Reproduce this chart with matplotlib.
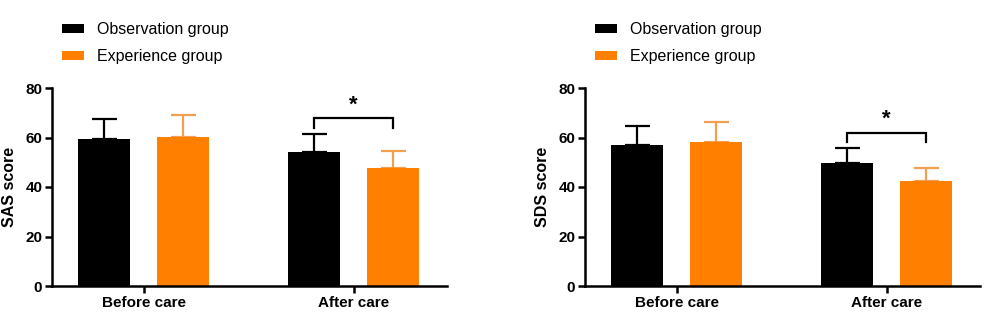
import numpy as np
import matplotlib
matplotlib.use('Agg')
from matplotlib import pyplot as plt

plt.rcParams['font.family'] = ['Liberation Sans', 'DejaVu Sans']

# data
categories = ['Before care', 'After care']
groups = ['Observation group', 'Experience group']

sas_mean = {'Observation group': [59.4, 54.0], 'Experience group': [60.2, 47.7]}
sas_sd = {'Observation group': [8.1, 7.5], 'Experience group': [8.8, 6.7]}
sds_mean = {'Observation group': [57.0, 49.7], 'Experience group': [58.0, 42.4]}
sds_sd = {'Observation group': [7.8, 6.2], 'Experience group': [8.3, 5.4]}

# significance brackets: (category index, bracket top, drop end)
sas_sig = (1, 68, 64)
sds_sig = (1, 62, 58)

bar_colors = {'Observation group': '#000000', 'Experience group': '#FF8000'}
err_colors = {'Observation group': '#000000', 'Experience group': '#F0A050'}

W, H = 991, 322
fig = plt.figure(figsize=(W / 100, H / 100), dpi=100)

x = np.arange(len(categories))
offsets = [-0.188, 0.188]
width = 0.248


def panel(left_px, means, sds, sig, ylabel):
    ax = fig.add_axes([left_px / W, 36 / H, 395 / W, 198 / H])
    for g, off in zip(groups, offsets):
        ax.bar(x + off, means[g], width=width, color=bar_colors[g], label=g, zorder=2)
        ax.errorbar(x + off, means[g], yerr=[np.zeros(len(x)), sds[g]], fmt='none',
                    ecolor=err_colors[g], elinewidth=1.6, capsize=9, capthick=1.6, zorder=1)
    # significance bracket
    ci, top, low = sig
    xl, xr = ci + offsets[0], ci + offsets[1]
    ax.plot([xl, xl, xr, xr], [low, top, top, low], color='black', lw=1.6,
            solid_joinstyle='miter', clip_on=False)
    ax.text(ci, top + 1.0, '*', ha='center', va='bottom', fontsize=16, fontweight='bold')

    ax.set_xlim(-0.436, 1.445)
    ax.set_ylim(0, 80)
    ax.set_yticks([0, 20, 40, 60, 80])
    ax.set_xticks(x)
    ax.set_xticklabels(categories, fontsize=11, fontweight='bold')
    for lab in ax.get_yticklabels():
        lab.set_fontsize(11)
        lab.set_fontweight('bold')
    ax.set_ylabel(ylabel, fontsize=11.5, fontweight='bold')
    ax.yaxis.set_label_coords(-0.088, 0.5)
    for s in ['top', 'right']:
        ax.spines[s].set_visible(False)
    for s in ['left', 'bottom']:
        ax.spines[s].set_linewidth(1.8)
    ax.tick_params(axis='both', width=1.8, length=5, pad=2)
    ax.legend(loc='upper left', bbox_to_anchor=((left_px + 10) / W, 1 - 22 / H),
              bbox_transform=fig.transFigure, frameon=False, fontsize=11.5,
              handlelength=1.35, handleheight=0.55, handletextpad=0.85, labelspacing=0.75,
              borderaxespad=0, borderpad=0)
    return ax


ax1 = panel(52, sas_mean, sas_sd, sas_sig, 'SAS score')
ax2 = panel(585, sds_mean, sds_sd, sds_sig, 'SDS score')

plt.savefig('out.png', dpi=100)
